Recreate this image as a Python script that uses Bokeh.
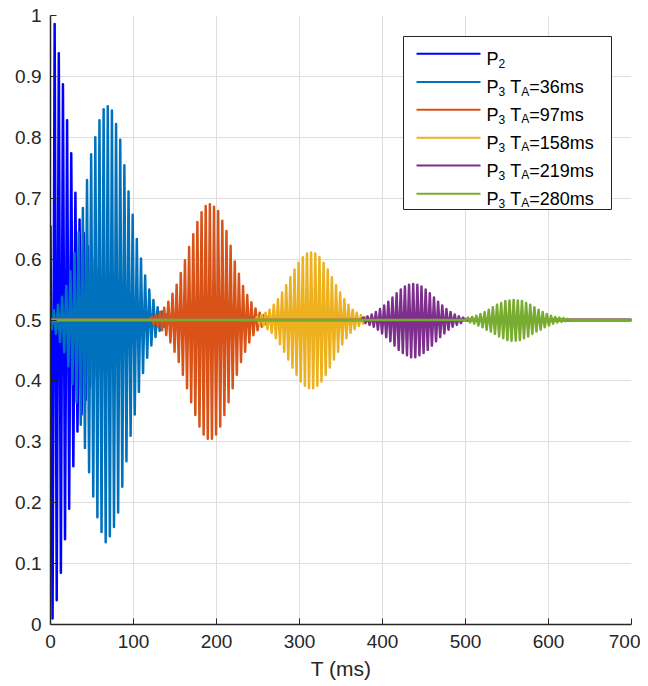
import numpy as np
from bokeh.plotting import figure
from bokeh.models import FixedTicker, CustomJSTickFormatter, Label
from bokeh.embed import file_html
from bokeh.resources import INLINE

# ---------------- data ----------------
T_START, T_END = 0.0, 700.0      # time span of every trace (ms)
BASE = 0.5                        # level the traces relax to
CYCLE = 5.0                       # ms between two crests
STEP = 2.5                        # ms between a crest and the next trough

x_ticks = [0, 100, 200, 300, 400, 500, 600, 700]
y_ticks = [0, 0.1, 0.2, 0.3, 0.4, 0.5, 0.6, 0.7, 0.8, 0.9, 1.0]

# P2: successive extrema every STEP ms from t = 0
p2_values = [0.655, 0.010, 0.986, 0.040, 0.938, 0.085, 0.887, 0.140, 0.828, 0.190,
             0.774, 0.260, 0.709, 0.317, 0.665, 0.345, 0.643, 0.369, 0.621, 0.389,
             0.602, 0.406, 0.586, 0.421, 0.573, 0.433, 0.562, 0.443, 0.552, 0.452,
             0.544, 0.460, 0.537, 0.467, 0.531, 0.472, 0.526, 0.477, 0.522, 0.481,
             0.518, 0.485, 0.514, 0.489, 0.510]

# echoes: crest values (every CYCLE ms from *_peak_t0) and trough values
e36_peak_t0, e36_trough_t0 = 4.0, 1.5
e36_peaks = [0.516, 0.525, 0.538, 0.556, 0.580, 0.609, 0.644, 0.684, 0.730, 0.772,
             0.800, 0.828, 0.846, 0.851, 0.844, 0.822, 0.796, 0.754, 0.711, 0.673,
             0.633, 0.601, 0.573, 0.550, 0.533, 0.521, 0.514, 0.509]
e36_troughs = [0.485, 0.477, 0.464, 0.447, 0.424, 0.395, 0.365, 0.328, 0.290, 0.250,
               0.210, 0.176, 0.152, 0.135, 0.145, 0.160, 0.184, 0.226, 0.268, 0.310,
               0.345, 0.382, 0.413, 0.438, 0.458, 0.472, 0.482, 0.489]

e97_peak_t0, e97_trough_t0 = 122.0, 124.5
e97_peaks = [0.505, 0.508, 0.513, 0.520, 0.530, 0.543, 0.558, 0.577, 0.598, 0.620,
             0.641, 0.661, 0.677, 0.687, 0.690, 0.686, 0.679, 0.663, 0.646, 0.622,
             0.596, 0.576, 0.556, 0.541, 0.529, 0.519, 0.512, 0.508, 0.505]
e97_troughs = [0.493, 0.489, 0.483, 0.475, 0.463, 0.448, 0.431, 0.410, 0.388, 0.365,
               0.344, 0.325, 0.312, 0.305, 0.305, 0.312, 0.325, 0.344, 0.365, 0.388,
               0.410, 0.431, 0.448, 0.463, 0.475, 0.483, 0.489, 0.493]

e158_peak_t0, e158_trough_t0 = 249.0, 251.5
e158_peaks = [0.505, 0.508, 0.512, 0.517, 0.525, 0.534, 0.545, 0.557, 0.570, 0.583,
              0.594, 0.603, 0.609, 0.611, 0.609, 0.603, 0.594, 0.583, 0.570, 0.557,
              0.545, 0.534, 0.525, 0.517, 0.512, 0.508, 0.505]
e158_troughs = [0.494, 0.490, 0.485, 0.479, 0.470, 0.460, 0.448, 0.435, 0.422, 0.410,
                0.399, 0.392, 0.388, 0.388, 0.392, 0.399, 0.410, 0.422, 0.435, 0.448,
                0.460, 0.470, 0.479, 0.485, 0.490, 0.494]

e219_peak_t0, e219_trough_t0 = 377.0, 379.5
e219_peaks = [0.504, 0.506, 0.509, 0.513, 0.518, 0.524, 0.530, 0.537, 0.544, 0.550,
              0.555, 0.558, 0.559, 0.558, 0.555, 0.550, 0.544, 0.537, 0.530, 0.524,
              0.518, 0.513, 0.509, 0.506, 0.504]
e219_troughs = [0.495, 0.492, 0.489, 0.484, 0.478, 0.472, 0.465, 0.458, 0.451, 0.446,
                0.442, 0.439, 0.439, 0.442, 0.446, 0.451, 0.458, 0.465, 0.472, 0.478,
                0.484, 0.489, 0.492, 0.495]

e280_peak_t0, e280_trough_t0 = 503.0, 505.5
e280_peaks = [0.504, 0.505, 0.507, 0.510, 0.513, 0.517, 0.521, 0.525, 0.528, 0.531,
              0.532, 0.533, 0.532, 0.531, 0.528, 0.525, 0.521, 0.517, 0.513, 0.510,
              0.507, 0.505, 0.504, 0.503, 0.502]
e280_troughs = [0.496, 0.494, 0.491, 0.488, 0.484, 0.481, 0.477, 0.473, 0.470, 0.467,
                0.466, 0.466, 0.467, 0.470, 0.473, 0.477, 0.481, 0.484, 0.488, 0.491,
                0.494, 0.496, 0.497, 0.498]

colors = ["#0000FF", "#0072BD", "#D95319", "#EDB120", "#7E2F8E", "#77AC30"]
legend_rows = [
    [("P", False), ("2", True)],
    [("P", False), ("3", True), ("T", False), ("A", True), ("=36ms", False)],
    [("P", False), ("3", True), ("T", False), ("A", True), ("=97ms", False)],
    [("P", False), ("3", True), ("T", False), ("A", True), ("=158ms", False)],
    [("P", False), ("3", True), ("T", False), ("A", True), ("=219ms", False)],
    [("P", False), ("3", True), ("T", False), ("A", True), ("=280ms", False)],
]

# ---------------- build traces ----------------
def p2_series():
    t = [T_START + STEP * i for i in range(len(p2_values))]
    return t + [t[-1] + STEP, T_END], list(p2_values) + [BASE, BASE]

def echo_series(pt0, peaks, tt0, troughs):
    t = [pt0 + CYCLE * i for i in range(len(peaks))] + [tt0 + CYCLE * i for i in range(len(troughs))]
    v = list(peaks) + list(troughs)
    order = np.argsort(t)
    ts = [t[i] for i in order]
    vs = [v[i] for i in order]
    t_out = [T_START] + ([ts[0] - STEP] if ts[0] - STEP > T_START else []) + ts + [ts[-1] + STEP, T_END]
    v_out = [BASE] + ([BASE] if ts[0] - STEP > T_START else []) + vs + [BASE, BASE]
    return t_out, v_out

series = [
    p2_series(),
    echo_series(e36_peak_t0, e36_peaks, e36_trough_t0, e36_troughs),
    echo_series(e97_peak_t0, e97_peaks, e97_trough_t0, e97_troughs),
    echo_series(e158_peak_t0, e158_peaks, e158_trough_t0, e158_troughs),
    echo_series(e219_peak_t0, e219_peaks, e219_trough_t0, e219_troughs),
    echo_series(e280_peak_t0, e280_peaks, e280_trough_t0, e280_troughs),
]

# ---------------- figure ----------------
FW, FH = 581, 609
p = figure(frame_width=FW, frame_height=FH, x_range=(0, 700), y_range=(0, 1),
           output_backend="svg", toolbar_location=None,
           min_border_left=50, min_border_right=9, min_border_top=15, min_border_bottom=56)
p.outline_line_color = None
p.background_fill_color = "white"
p.border_fill_color = "white"

AX = "#262626"
FONT = "Liberation Sans"
for ax in (p.xaxis, p.yaxis):
    ax.axis_line_color = AX
    ax.axis_line_width = 1.5
    ax.major_tick_line_color = AX
    ax.major_tick_in = 6
    ax.major_tick_out = 0
    ax.minor_tick_line_color = None
    ax.major_label_text_font = FONT
    ax.major_label_text_font_size = "19px"
    ax.major_label_text_color = AX
p.xaxis.ticker = FixedTicker(ticks=x_ticks)
p.yaxis.ticker = FixedTicker(ticks=y_ticks)
p.yaxis.formatter = CustomJSTickFormatter(code="return (Math.round(tick*10)/10).toString();")
p.xaxis.major_label_standoff = 10
p.yaxis.major_label_standoff = 9
p.xaxis.axis_label = "T (ms)"
p.xaxis.axis_label_text_font = FONT
p.xaxis.axis_label_text_font_size = "21px"
p.xaxis.axis_label_text_font_style = "normal"
p.xaxis.axis_label_text_color = AX
p.xaxis.axis_label_standoff = 6

p.xgrid.ticker = FixedTicker(ticks=x_ticks)
p.ygrid.ticker = FixedTicker(ticks=y_ticks)
p.grid.grid_line_color = "#dedede"
p.grid.grid_line_width = 1

for (t, v), c in zip(series, colors):
    p.line(t, v, line_color=c, line_width=2.5, line_join="round")

# ---------------- legend (drawn by hand for the subscripts) ----------------
sx = 700.0 / FW   # data units per pixel
sy = 1.0 / FH
def X(px):  # page pixel -> data
    return (px - 50) * sx
def Y(py):
    return (624 - py) * sy

p.quad(left=X(403), right=X(611), top=Y(36), bottom=Y(209),
       fill_color="white", line_color=AX, line_width=1)

row_py = [53.3, 81.5, 109.3, 137.3, 165.1, 193.2]
W = {"P": .667, "T": .611, "A": .667, "=": .584, "m": .833, "s": .5, " ": .278}
for d in "0123456789":
    W[d] = .556
MAIN, SUB = 18, 12

def width(txt, size):
    return sum(W.get(ch, .556) for ch in txt) * size

for py, c, parts in zip(row_py, colors, legend_rows):
    p.segment(x0=[X(416)], y0=[Y(py)], x1=[X(480)], y1=[Y(py)], line_color=c, line_width=2)
    xpx = 486.0
    for txt, sub in parts:
        if txt == "T":
            xpx += W[" "] * MAIN
        size = SUB if sub else MAIN
        base = py + (9.5 if sub else 5.0)
        p.add_layout(Label(x=X(xpx), y=Y(base), text=txt, text_font=FONT,
                           text_font_size=f"{size}px", text_color="black",
                           text_baseline="alphabetic", text_align="left"))
        xpx += width(txt, size)

open("out.html", "w").write(file_html(p, INLINE))
